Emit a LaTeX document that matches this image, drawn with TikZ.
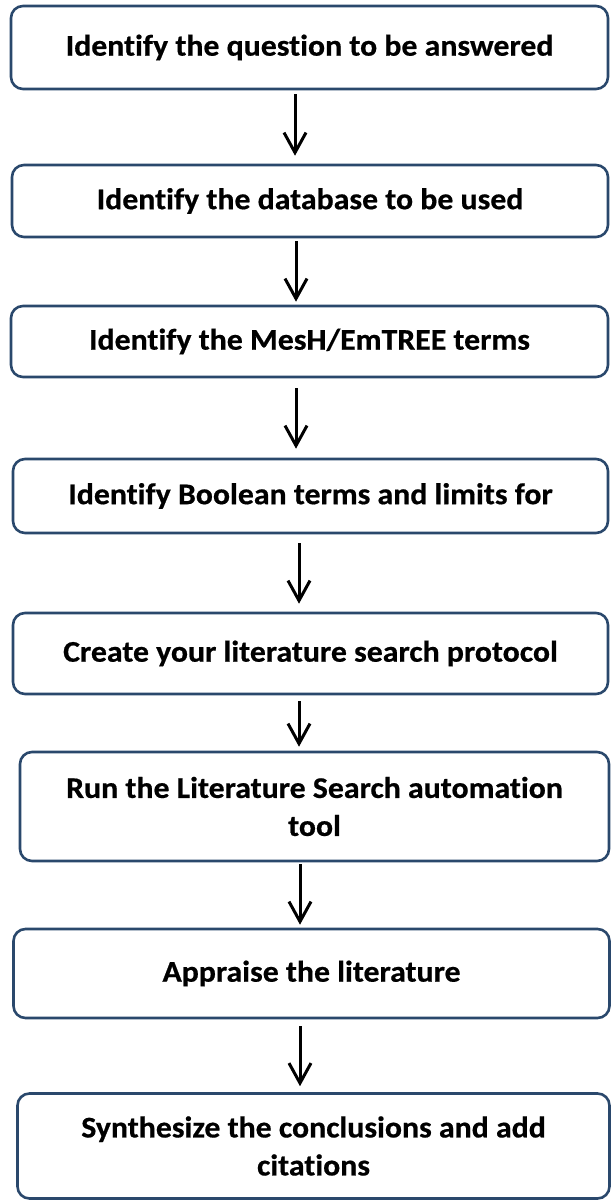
\documentclass[tikz,border=0pt]{standalone}
\usepackage{fontspec}
\setmainfont[Ligatures=CommonOff, FakeStretch=1.06, BoldFeatures={FakeBold=0.6}]{Carlito}
\usetikzlibrary{arrows.meta}
\definecolor{boxline}{RGB}{42,72,108}
\tikzset{
  stepbox/.style={draw=boxline, line width=2.6pt, rounded corners=12pt,
    fill=white, inner sep=0pt, align=center,
    font=\fontsize{30}{38}\selectfont\bfseries},
  flow/.style={line width=3pt, draw=black,
    -{Straight Barb[length=20pt,width=22pt,line width=3pt]}}
}
\begin{document}
\begin{tikzpicture}[x=1pt,y=-1pt]
\useasboundingbox (0,0) rectangle (611,1201);
\fill[white] (0,0) rectangle (611,1201);

% process steps, top to bottom
\node[stepbox, minimum width=597pt, minimum height=83pt]  (s1) at (309.5,47.5) {Identify the question to be answered};
\node[stepbox, minimum width=596pt, minimum height=72pt]  (s2) at (310,201)    {Identify the database to be used};
\node[stepbox, minimum width=597pt, minimum height=71pt]  (s3) at (309.5,341.5){Identify the MesH/EmTREE terms};
\node[stepbox, minimum width=595pt, minimum height=74pt]  (s4) at (310.5,496)  {Identify Boolean terms and limits for};
\node[stepbox, minimum width=595pt, minimum height=81pt]  (s5) at (310.5,653.5){Create your literature search protocol};
\node[stepbox, minimum width=589pt, minimum height=109pt] (s6) at (314.5,806.5){Run the Literature Search automation\\tool};
\node[stepbox, minimum width=596pt, minimum height=89pt]  (s7) at (311.5,973.5){Appraise the literature};
\node[stepbox, minimum width=592pt, minimum height=105pt] (s8) at (313.5,1146) {Synthesize the conclusions and add\\citations};

% arrows between consecutive steps
\draw[flow, shorten <=4pt, shorten >=8pt]  (s1.south -| 295,0) -- (s2.north -| 295,0);
\draw[flow, shorten <=3pt, shorten >=3pt]  (s2.south -| 296,0) -- (s3.north -| 296,0);
\draw[flow, shorten <=10pt, shorten >=9pt] (s3.south -| 296,0) -- (s4.north -| 296,0);
\draw[flow, shorten <=9pt, shorten >=8pt]  (s4.south -| 299,0) -- (s5.north -| 299,0);
\draw[flow, shorten <=6pt, shorten >=4pt]  (s5.south -| 299,0) -- (s6.north -| 299,0);
\draw[flow, shorten <=2pt, shorten >=3pt]  (s6.south -| 300,0) -- (s7.north -| 300,0);
\draw[flow, shorten <=7pt, shorten >=6pt]  (s7.south -| 300,0) -- (s8.north -| 300,0);
\end{tikzpicture}
\end{document}
